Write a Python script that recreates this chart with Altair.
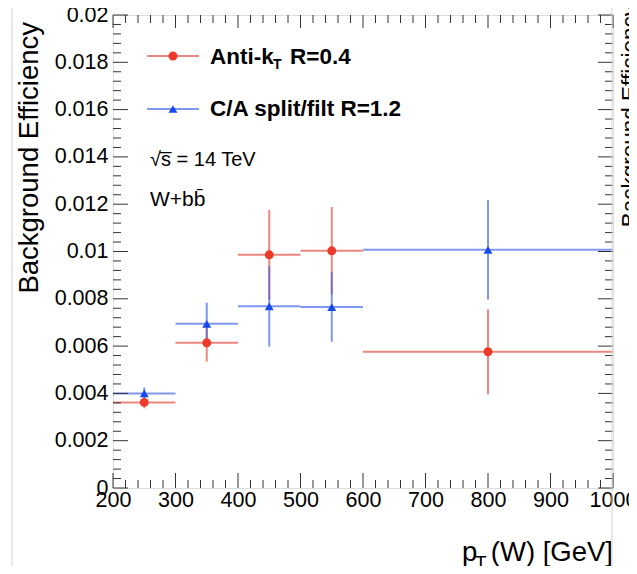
import altair as alt
import pandas as pd

# ---- data ----
bin_center = [250, 350, 450, 550, 800]
bin_low = [200, 300, 400, 500, 600]
bin_high = [300, 400, 500, 600, 1000]

akt_eff = [0.00362, 0.00614, 0.00986, 0.01003, 0.00576]
akt_err = [0.00025, 0.00080, 0.00190, 0.00185, 0.00180]

ca_eff = [0.00400, 0.00694, 0.00768, 0.00765, 0.01007]
ca_err = [0.00025, 0.00090, 0.00170, 0.00147, 0.00210]

series_names = ["Anti-kT R=0.4", "C/A split/filt R=1.2"]
series_marker_colors = ["#ee3a28", "#1848f0"]
series_line_colors = ["#e2463c", "#3a5fe2"]
series_shapes = ["circle", "triangle-up"]

x_major = [200, 300, 400, 500, 600, 700, 800, 900, 1000]
x_minor = [v for v in range(200, 1001, 20) if v % 100 != 0]
y_major = [0, 0.002, 0.004, 0.006, 0.008, 0.01, 0.012, 0.014, 0.016, 0.018, 0.02]
y_minor = [round(i * 0.0004, 4) for i in range(51) if i % 5 != 0]

FONT = "Liberation Sans"
W, H = 500, 473

rows = []
for name, eff, err in [(series_names[0], akt_eff, akt_err), (series_names[1], ca_eff, ca_err)]:
    for c, lo, hi, e, s in zip(bin_center, bin_low, bin_high, eff, err):
        rows.append({"series": name, "pt": c, "lo": lo, "hi": hi,
                     "eff": e, "elo": e - s, "ehi": e + s})
df = pd.DataFrame(rows)

xs = alt.Scale(domain=[200, 1000], nice=False, zero=False)
ys = alt.Scale(domain=[0, 0.02], nice=False)
line_color = alt.Color("series:N", scale=alt.Scale(domain=series_names, range=series_line_colors), legend=None)
mark_color = alt.Color("series:N", scale=alt.Scale(domain=series_names, range=series_marker_colors), legend=None)

x_axis = alt.Axis(values=x_major, title=None, ticks=False, tickSize=0, domain=False, grid=False,
                  labelFont=FONT, labelFontSize=21.5, labelColor="#000", labelPadding=1,
                  labelFlush=False, labelOverlap=False, format="d")
y_axis = alt.Axis(values=y_major, title=None, ticks=False, tickSize=0, domain=False, grid=False,
                  labelFont=FONT, labelFontSize=21.5, labelColor="#000", labelPadding=5,
                  labelOverlap=False, format="~g")

base = alt.Chart(df)

hbars = base.mark_rule(strokeWidth=2, opacity=0.65).encode(
    x=alt.X("lo:Q", scale=xs, axis=x_axis),
    x2="hi:Q",
    y=alt.Y("eff:Q", scale=ys, axis=y_axis),
    color=line_color,
)
vbars = base.mark_rule(strokeWidth=2, opacity=0.65).encode(
    x=alt.X("pt:Q", scale=xs),
    y=alt.Y("elo:Q", scale=ys),
    y2="ehi:Q",
    color=line_color,
)
points = base.mark_point(filled=True, opacity=1, size=80).encode(
    x=alt.X("pt:Q", scale=xs),
    y=alt.Y("eff:Q", scale=ys),
    color=mark_color,
    shape=alt.Shape("series:N", scale=alt.Scale(domain=series_names, range=series_shapes), legend=None),
)

# ---- inward ticks on all four sides (ROOT style) ----
TC = "#333"
yM = pd.DataFrame({"v": y_major})
ym = pd.DataFrame({"v": y_minor})
xM = pd.DataFrame({"v": x_major})
xm = pd.DataFrame({"v": x_minor})


def yticks(d, x0, x1):
    return alt.Chart(d).mark_rule(color=TC, strokeWidth=1).encode(
        y=alt.Y("v:Q", scale=ys), x=alt.value(x0), x2=alt.value(x1))


def xticks(d, y0, y1):
    return alt.Chart(d).mark_rule(color=TC, strokeWidth=1).encode(
        x=alt.X("v:Q", scale=xs), y=alt.value(y0), y2=alt.value(y1))


ticks = [
    yticks(yM, 0, 15), yticks(ym, 0, 8),
    yticks(yM, W, W - 15), yticks(ym, W, W - 8),
    xticks(xM, H, H - 15), xticks(xm, H, H - 8),
    xticks(xM, 0, 13), xticks(xm, 0, 8),
]

one = pd.DataFrame({"a": [0]})


def text(t, x, y, size, bold=False, align="left", baseline="alphabetic", angle=0, color="#000"):
    kw = dict(text=t, font=FONT, fontSize=size, align=align, baseline=baseline, color=color,
              fontWeight="bold" if bold else "normal")
    if angle:
        kw["angle"] = angle
    return alt.Chart(one).mark_text(**kw).encode(x=alt.value(x), y=alt.value(y))


# legend (drawn manually)
leg = []
for i, yy in enumerate([41, 94]):
    leg.append(alt.Chart(one).mark_rule(color=series_line_colors[i], strokeWidth=2, opacity=0.65).encode(
        x=alt.value(34), x2=alt.value(86), y=alt.value(yy)))
    leg.append(alt.Chart(one).mark_point(filled=True, opacity=1, size=80, shape=series_shapes[i],
                                         color=series_marker_colors[i]).encode(
        x=alt.value(60), y=alt.value(yy)))

texts = [
    text("Anti-k", 97, 48.5, 22.5, bold=True),
    text("T", 160, 53.5, 14, bold=True),
    text("R=0.4", 177, 48.5, 22.5, bold=True),
    text("C/A split/filt R=1.2", 97, 100.5, 22.5, bold=True),
    text("\u221as\u0305 = 14 TeV", 37, 150.5, 20),
    text("W+bb\u0304", 37, 191, 21),
    # axis titles
    text("Background Efficiency", -97, 7, 27.5, align="right", baseline="top", angle=270),
    text("Background Efficiency", 506, -10, 22.5, align="right", baseline="top", angle=270),
    text("(W) [GeV]", 500, 546, 27.5, align="right"),
    text("p", 349, 546, 27.5),
    text("T", 362, 553.5, 19),
]

artifacts = [
    alt.Chart(one).mark_rule(color="#d4d4d4", strokeWidth=1).encode(
        x=alt.value(499), y=alt.value(-7), y2=alt.value(551)),
    alt.Chart(one).mark_rule(color="#d4d4d4", strokeWidth=1).encode(
        x=alt.value(-101), y=alt.value(-7), y2=alt.value(551)),
]

chart = alt.layer(
    hbars, vbars, points, *ticks, *leg, *texts, *artifacts
).resolve_scale(color="independent").properties(
    width=W, height=H,
    autosize=alt.AutoSizeParams(type="none"),
    padding={"left": 105, "top": 7, "right": 16, "bottom": 78},
).configure_view(stroke="#1a1a1a", strokeWidth=1.5).configure(background="white")

chart.save("out.html", embed_options={"renderer": "svg", "actions": False})
